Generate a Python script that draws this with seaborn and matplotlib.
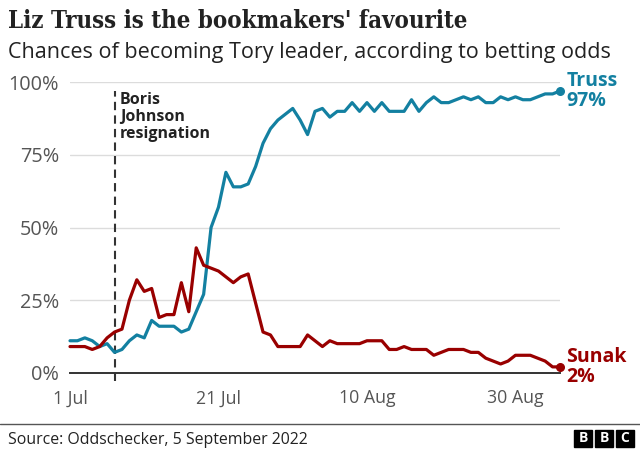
import numpy as np
import pandas as pd
import matplotlib
matplotlib.use('Agg')
import matplotlib.pyplot as plt
from matplotlib.patches import Rectangle
import seaborn as sns

# daily betting-odds chances, 1 Jul - 5 Sep 2022
dates = pd.date_range('2022-07-01', '2022-09-05', freq='D')
truss = [11, 11, 12, 11, 9, 10, 7, 8, 11, 13, 12, 18, 16, 16, 16, 14, 15, 21, 27, 50,
         57, 69, 64, 64, 65, 71, 79, 84, 87, 89, 91, 87, 82, 90, 91, 88, 90, 90, 93, 90,
         93, 90, 93, 90, 90, 90, 94, 90, 93, 95, 93, 93, 94, 95, 94, 95, 93, 93, 95, 94,
         95, 94, 94, 95, 96, 96, 97]
sunak = [9, 9, 9, 8, 9, 12, 14, 15, 25, 32, 28, 29, 19, 20, 20, 31, 21, 43, 37, 36,
         35, 33, 31, 33, 34, 24, 14, 13, 9, 9, 9, 9, 13, 11, 9, 11, 10, 10, 10, 10,
         11, 11, 11, 8, 8, 9, 8, 8, 8, 6, 7, 8, 8, 8, 7, 7, 5, 4, 3, 4,
         6, 6, 6, 5, 4, 2, 2]
names = ['Truss', 'Sunak']
colours = {'Truss': '#1380A1', 'Sunak': '#990000'}
resign_date = pd.Timestamp('2022-07-07')
tick_dates = pd.to_datetime(['2022-07-01', '2022-07-21', '2022-08-10', '2022-08-30'])
tick_labels = ['1 Jul', '21 Jul', '10 Aug', '30 Aug']
y_ticks = [0, 25, 50, 75, 100]

df = pd.DataFrame({'date': np.tile(dates, 2),
                   'chance': truss + sunak,
                   'name': np.repeat(names, len(dates))})

sns.set_style('white')
plt.rcParams['font.family'] = ['Open Sans', 'DejaVu Sans']

fig = plt.figure(figsize=(6.4, 4.5), dpi=100)
ax = fig.add_axes([70 / 640, 77.3 / 450, 490 / 640, 290.4 / 450])

sns.lineplot(data=df, x='date', y='chance', hue='name', palette=colours,
             linewidth=2.3, legend=False, ax=ax, clip_on=False, zorder=3)

ax.set_xlim(dates[0], dates[-1])
ax.set_ylim(0, 100)
ax.set_yticks(y_ticks)
ax.set_yticklabels([f'{v}%' for v in y_ticks])
ax.set_xticks(tick_dates)
ax.set_xticklabels(tick_labels)
ax.set_xlabel('')
ax.set_ylabel('')
ax.yaxis.grid(True, color='#dcdcdc', linewidth=1)
ax.set_axisbelow(True)
for s in ['top', 'right', 'left']:
    ax.spines[s].set_visible(False)
ax.spines['bottom'].set_color('#333333')
ax.spines['bottom'].set_linewidth(1.4)
ax.spines['bottom'].set_zorder(2)
ax.tick_params(axis='y', length=0, pad=8, labelsize=14.3, labelcolor='#555555')
ax.tick_params(axis='x', length=5, width=1, color='#333333', pad=7,
               labelsize=12.8, labelcolor='#555555')

# resignation marker
ax.plot([resign_date, resign_date], [-3, 97], color='#333333', linewidth=1.5,
        linestyle=(0, (4, 2.5)), clip_on=False, zorder=1)
ax.text(resign_date + pd.Timedelta(hours=18), 96.5, 'Boris\nJohnson\nresignation',
        fontsize=11.5, fontweight='bold', color='#222222', va='top', ha='left',
        linespacing=1.05)

# end points and labels
for name, vals in zip(names, [truss, sunak]):
    ax.scatter([dates[-1]], [vals[-1]], s=30, color=colours[name], zorder=4, clip_on=False)
    ax.annotate(f'{name}\n{vals[-1]}%', xy=(dates[-1], vals[-1]), xytext=(4.5, 0),
                textcoords='offset points', ha='left', va='center', fontsize=14,
                fontweight='bold', color=colours[name], linespacing=0.95,
                annotation_clip=False)

fig.text(8 / 640, 1 - 28 / 450, "Liz Truss is the bookmakers' favourite",
         fontsize=17.2, fontweight='bold', family=['DejaVu Serif'], fontstretch='condensed',
         color='#222222', va='baseline')
fig.text(8 / 640, 1 - 58 / 450, 'Chances of becoming Tory leader, according to betting odds',
         fontsize=15.5, color='#222222', va='baseline')

# footer
fig.add_artist(plt.Line2D([0, 1], [1 - 424 / 450] * 2, color='#555555', linewidth=1,
                          transform=fig.transFigure))
fig.text(8 / 640, 1 - 444 / 450, 'Source: Oddschecker, 5 September 2022',
         fontsize=11.4, color='#222222', va='baseline')
for i, letter in enumerate('BBC'):
    x0 = 574 + i * 21
    fig.add_artist(Rectangle((x0 / 640, 1 - 447 / 450), 18 / 640, 17 / 450,
                             transform=fig.transFigure, color='black'))
    fig.text((x0 + 9) / 640, 1 - 438.5 / 450, letter, fontsize=10, fontweight='bold',
             color='white', ha='center', va='center')

fig.savefig('out.png', dpi=100)
plt.close()
